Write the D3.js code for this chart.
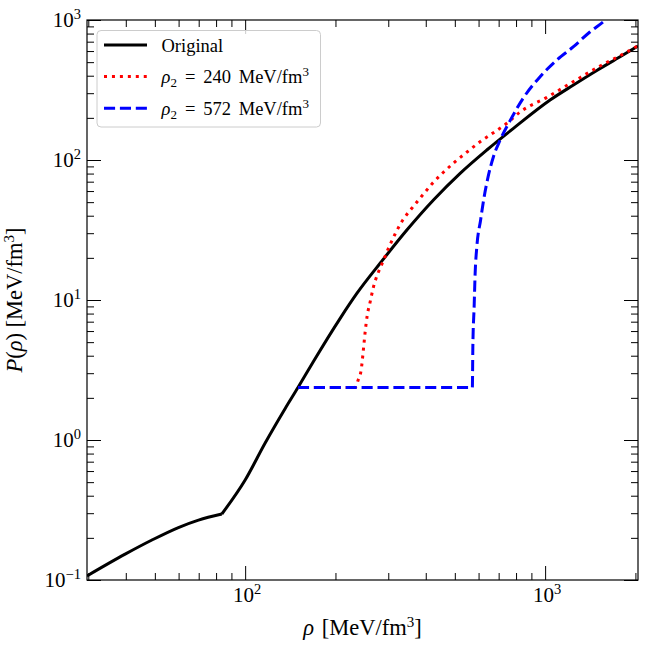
<!DOCTYPE html>
<html>
<head>
<meta charset="utf-8">
<script src="https://cdn.jsdelivr.net/npm/d3@7"></script>
<style>
body { margin: 0; background: #fff; }
text { font-family: "Liberation Serif", "Times New Roman", serif; fill: #000; }
</style>
</head>
<body>
<svg id="chart" width="648" height="648"></svg>
<script>
// original EOS (kink at index 5)
var origRho = [29.7, 39.8, 48.9, 59.9, 69.9, 83.6, 100, 116.6, 136.0, 150, 168.9, 207.4, 235.7, 284, 346, 424.4, 520.8, 639.2, 784.1, 1039, 1243, 1487, 1778, 2040];
var origP   = [0.107, 0.153, 0.193, 0.237, 0.268, 0.296, 0.518, 0.952, 1.68, 2.37, 3.64, 7.40, 11.13, 18.68, 31.6, 51.8, 80.3, 117.9, 168.4, 268.3, 343.4, 436, 546.6, 652];
var origKink = 5;

// rho2 = 240
var rho240 = [150, 232.6, 238.1, 243.6, 247.4, 251.2, 255.1, 261.0, 267.7, 278.2, 287.7, 300.3, 316.2, 335.5, 359.5, 388.2, 419.3, 458.1, 501.2, 550.8, 607.1, 672.5, 745.5, 825.4, 1013, 1243, 1525, 1872, 2040];
var p240   = [2.37, 2.37, 2.68, 3.16, 4.25, 5.91, 7.69, 9.67, 12.38, 15.85, 18.68, 23.4, 29.6, 37.3, 45.2, 55.3, 67.4, 81.7, 97.2, 114.6, 135.1, 156.7, 182.9, 220.3, 280.3, 363.6, 469.3, 590.6, 656];

// rho2 = 572
var rho572 = [150, 572, 574.2, 579.9, 584.4, 592, 609.5, 623.7, 645.7, 672.5, 707.9, 764.2, 846.6, 962.3, 1094, 1243, 1413, 1564, 1647];
var p572   = [2.37, 2.37, 4.64, 8.96, 15.5, 24.0, 37.3, 51.8, 76.0, 105.6, 138.9, 191.0, 278.0, 393.6, 518, 644.8, 824.6, 972.5, 1068];

var xMajor = [100, 1000];
var yMajor = [0.1, 1, 10, 100, 1000];
var xMinor = [30, 40, 50, 60, 70, 80, 90, 200, 300, 400, 500, 600, 700, 800, 900, 2000];
var yMinor = [];
[0.1, 1, 10, 100].forEach(function(d) {
    for (var k = 2; k < 10; k++) yMinor.push(d * k);
});
var legendValues = ["240", "572"];

var svg = d3.select("#chart");
var margin = {top: 20, right: 10, bottom: 68, left: 87},
    width = +svg.attr("width") - margin.left - margin.right,
    height = +svg.attr("height") - margin.top - margin.bottom;

var g = svg.append("g")
    .attr("transform", "translate(" + margin.left + "," + margin.top + ")");

var x = d3.scaleLog().domain([29.7, 2040]).range([0, width]);
var y = d3.scaleLog().domain([0.1, 1000]).range([height, 0]);

g.append("clipPath").attr("id", "clip")
    .append("rect").attr("width", width).attr("height", height);

// ticks on all four sides, pointing in
function ticks(axisFn, vals, size, tr) {
    var a = g.append("g")
        .attr("transform", tr)
        .call(axisFn.tickValues(vals).tickSize(size).tickFormat(""));
    a.select(".domain").remove();
    a.selectAll("line").attr("stroke", "#000").attr("stroke-width", 1);
}
ticks(d3.axisBottom(x), xMajor, -14, "translate(0," + height + ")");
ticks(d3.axisBottom(x), xMinor, -7, "translate(0," + height + ")");
ticks(d3.axisTop(x), xMajor, -14, "translate(0,0)");
ticks(d3.axisTop(x), xMinor, -7, "translate(0,0)");
ticks(d3.axisLeft(y), yMajor, -14, "translate(0,0)");
ticks(d3.axisLeft(y), yMinor, -7, "translate(0,0)");
ticks(d3.axisRight(y), yMajor, -14, "translate(" + width + ",0)");
ticks(d3.axisRight(y), yMinor, -7, "translate(" + width + ",0)");

// power-of-ten tick labels
function expLabel(sel) {
    sel.each(function(d) {
        var e = Math.round(Math.log10(d));
        var t = d3.select(this);
        t.append("tspan").text("10");
        t.append("tspan").attr("dy", -8).style("font-size", "14.5px")
            .text(e < 0 ? "\u2212" + (-e) : e);
    });
}
g.selectAll(".xlab").data(xMajor).enter().append("text")
    .attr("x", function(d) { return x(d) + 2; })
    .attr("y", height + 22)
    .attr("text-anchor", "middle")
    .style("font-size", "21px")
    .call(expLabel);

g.selectAll(".ylab").data(yMajor).enter().append("text")
    .attr("x", -6)
    .attr("y", function(d) { return y(d) + 7; })
    .attr("text-anchor", "end")
    .style("font-size", "21px")
    .call(expLabel);

// axis titles
var xt = g.append("text")
    .attr("x", width / 2).attr("y", height + 55)
    .attr("text-anchor", "middle").style("font-size", "22.5px");
xt.append("tspan").style("font-style", "italic").text("\u03c1");
xt.append("tspan").attr("dx", 2).text(" [MeV/fm");
xt.append("tspan").attr("dy", -8).style("font-size", "15px").text("3");
xt.append("tspan").attr("dy", 8).text("]");

var yt = g.append("text")
    .attr("transform", "translate(-65," + (height / 2) + ") rotate(-90)")
    .attr("text-anchor", "middle").style("font-size", "22.5px");
yt.append("tspan").style("font-style", "italic").text("P");
yt.append("tspan").text("(");
yt.append("tspan").style("font-style", "italic").text("\u03c1");
yt.append("tspan").text(") [MeV/fm");
yt.append("tspan").attr("dy", -8).style("font-size", "15px").text("3");
yt.append("tspan").attr("dy", 8).text("]");

// curves
var line = d3.line()
    .x(function(d) { return x(d[0]); })
    .y(function(d) { return y(d[1]); })
    .curve(d3.curveMonotoneX);

var origPts = d3.zip(origRho, origP);
var series = [
    {parts: [origPts.slice(0, origKink + 1), origPts.slice(origKink)], color: "#000000", dash: null},
    {parts: [d3.zip(rho240, p240)], color: "#ff0000", dash: "3,4.95"},
    {parts: [d3.zip(rho572, p572)], color: "#0000ff", dash: "11.1,4.8"}
];

var plot = g.append("g").attr("clip-path", "url(#clip)");
series.forEach(function(s) {
    s.parts.forEach(function(pts) {
        plot.append("path")
            .datum(pts)
            .attr("d", line)
            .attr("fill", "none")
            .attr("stroke", s.color)
            .attr("stroke-width", 3)
            .attr("stroke-dasharray", s.dash)
            .attr("stroke-linejoin", "round");
    });
});

// frame
g.append("rect")
    .attr("width", width).attr("height", height)
    .attr("fill", "none").attr("stroke", "#000").attr("stroke-width", 1.2);

// legend
var leg = g.append("g").attr("transform", "translate(10,10.5)");
leg.append("rect")
    .attr("width", 223.5).attr("height", 96.5)
    .attr("rx", 4).attr("ry", 4)
    .attr("fill", "#fff").attr("fill-opacity", 0.8)
    .attr("stroke", "#cccccc").attr("stroke-width", 1);

var rows = leg.selectAll(".row").data(series).enter().append("g")
    .attr("transform", function(d, i) { return "translate(0," + (14.5 + i * 31.6) + ")"; });
rows.append("line")
    .attr("x1", 7).attr("x2", 50)
    .attr("stroke", function(d) { return d.color; })
    .attr("stroke-width", 3)
    .attr("stroke-dasharray", function(d) { return d.dash; });
rows.each(function(d, i) {
    var t = d3.select(this).append("text")
        .attr("x", 64.5).attr("y", 6.5)
        .style("font-size", "18.5px");
    if (i === 0) { t.text("Original"); return; }
    t.append("tspan").style("font-style", "italic").text("\u03c1");
    t.append("tspan").attr("dy", 4).style("font-size", "13px").text("2");
    t.append("tspan").attr("dy", -4).attr("dx", 8).text("=");
    t.append("tspan").attr("dx", 8).text(legendValues[i - 1]);
    t.append("tspan").attr("dx", 3).text(" MeV/fm");
    t.append("tspan").attr("dy", -7).style("font-size", "13px").text("3");
});
</script>
</body>
</html>
